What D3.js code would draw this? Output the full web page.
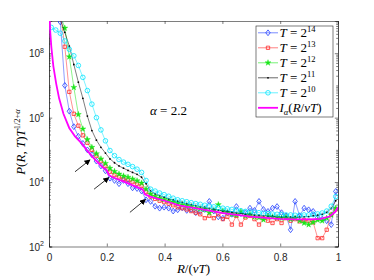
<!DOCTYPE html>
<html>
<head>
<meta charset="utf-8">
<script src="https://cdn.jsdelivr.net/npm/d3@7"></script>
<style>
body { margin: 0; background: #fff; }
svg { display: block; }
.tick-label { font-family: "Liberation Sans", Arial, sans-serif; font-size: 10px; fill: #262626; }
.tex { font-family: "Liberation Serif", "DejaVu Serif", serif; fill: #000; }
.axis path, .axis line { stroke: #262626; stroke-width: 0.6; }
</style>
</head>
<body>
<svg id="chart" width="374" height="280"></svg>
<script>
// bin centres R/(vT)
var rBins = [0.0078, 0.0234, 0.0391, 0.0547, 0.0703, 0.0859, 0.1016, 0.1172, 0.1328, 0.1484,
    0.1641, 0.1797, 0.1953, 0.2109, 0.2266, 0.2422, 0.2578, 0.2734, 0.2891, 0.3047,
    0.3203, 0.3359, 0.3516, 0.3672, 0.3828, 0.3984, 0.4141, 0.4297, 0.4453, 0.4609,
    0.4766, 0.4922, 0.5078, 0.5234, 0.5391, 0.5547, 0.5703, 0.5859, 0.6016, 0.6172,
    0.6328, 0.6484, 0.6641, 0.6797, 0.6953, 0.7109, 0.7266, 0.7422, 0.7578, 0.7734,
    0.7891, 0.8047, 0.8203, 0.8359, 0.8516, 0.8672, 0.8828, 0.8984, 0.9141, 0.9297,
    0.9453, 0.9609, 0.9766, 0.9922];

// log10 of P(R,T) T^(1/2+alpha)
var logT14 = [10.5, 9.8, 8.97, 7.0, 6.2, 5.72, 5.42, 5.2, 5.0, 4.85,
    4.65, 4.5, 4.35, 4.12, 4.05, 3.95, 4.05, 3.95, 3.82, 3.8,
    3.72, 3.45, 3.4, 3.25, 3.19, 3.22, 3.19, 3.1, 3.14, 3.2,
    3.12, 3.15, 3.05, 3.09, 3.15, 3.4, 3.1, 2.92, 2.88, 3.05,
    3.0, 3.24, 3.02, 3.05, 3.19, 3.12, 3.4, 3.15, 3.09, 3.19,
    3.24, 3.05, 2.95, 2.52, 3.4, 2.95, 3.19, 3.14, 3.09, 2.9,
    2.85, 2.8, 2.68, 3.71];
var logT13 = [10.5, 9.9, 9.3, 8.2, 6.8, 6.12, 5.75, 5.45, 5.22, 5.0,
    4.82, 4.65, 4.5, 4.32, 4.22, 4.15, 4.1, 4.05, 4.0, 3.95,
    3.88, 3.7, 3.55, 3.48, 3.42, 3.38, 3.33, 3.28, 3.22, 3.19,
    3.15, 3.1, 3.05, 3.0, 2.88, 2.95, 2.88, 3.0, 2.85, 2.92,
    2.68, 2.95, 2.68, 2.9, 2.95, 2.85, 2.68, 2.88, 2.8, 2.73,
    2.85, 2.73, 2.88, 2.8, 2.85, 2.78, 2.82, 2.8, 2.75, 2.26,
    2.26, 2.52, 2.99, 3.15];
var logT12 = [10.2, 9.7, 9.2, 8.78, 7.89, 6.94, 6.1, 5.65, 5.32, 5.08,
    4.88, 4.72, 4.58, 4.43, 4.33, 4.25, 4.19, 4.15, 4.1, 4.04,
    3.97, 3.78, 3.63, 3.56, 3.5, 3.46, 3.42, 3.38, 3.34, 3.3,
    3.27, 3.24, 3.2, 3.17, 3.15, 3.05, 3.12, 3.3, 3.1, 3.05,
    3.0, 2.98, 3.09, 2.95, 3.0, 2.92, 2.9, 2.83, 2.95, 2.92,
    2.9, 2.88, 2.92, 2.85, 2.88, 2.8, 2.73, 2.68, 2.75, 2.82,
    2.8, 2.88, 2.98, 3.19];
var logT11 = [10.5, 9.8, 9.05, 8.65, 8.22, 7.65, 7.1, 6.6, 6.05, 5.6,
    5.3, 5.08, 4.9, 4.72, 4.6, 4.5, 4.43, 4.36, 4.3, 4.24,
    4.15, 3.95, 3.72, 3.64, 3.58, 3.53, 3.48, 3.44, 3.4, 3.37,
    3.33, 3.3, 3.27, 3.24, 3.21, 3.18, 3.15, 3.13, 3.11, 3.09,
    3.07, 3.05, 3.03, 3.01, 3.0, 2.98, 2.97, 2.96, 2.95, 2.94,
    2.93, 2.92, 2.92, 2.91, 2.91, 2.91, 2.92, 2.93, 2.95, 2.97,
    3.0, 3.06, 3.18, 3.42];
var logT10 = [8.8, 8.72, 8.62, 8.38, 8.12, 7.92, 7.62, 7.25, 6.84, 6.42,
    6.0, 5.62, 5.28, 4.98, 4.82, 4.7, 4.62, 4.55, 4.48, 4.4,
    4.3, 4.05, 3.78, 3.72, 3.66, 3.61, 3.56, 3.5, 3.45, 3.42,
    3.39, 3.36, 3.33, 3.31, 3.28, 3.26, 3.23, 3.21, 3.19, 3.17,
    3.15, 3.13, 3.11, 3.09, 3.07, 3.06, 3.05, 3.03, 3.02, 3.01,
    3.0, 2.99, 2.98, 2.98, 2.97, 2.97, 2.98, 2.98, 2.99, 3.01,
    3.04, 3.1, 3.25, 3.55];

// I_alpha(R/vT) curve
var theoryR = [0.001, 0.004, 0.008, 0.015, 0.025, 0.035, 0.05, 0.07, 0.09, 0.113,
    0.13, 0.153, 0.175, 0.19, 0.2, 0.207, 0.22, 0.257, 0.3, 0.325,
    0.332, 0.35, 0.4, 0.45, 0.5, 0.55, 0.6, 0.65, 0.7, 0.75,
    0.8, 0.85, 0.9, 0.94, 0.97, 0.99, 1.0];
var theoryLog = [9.3, 8.7, 8.2, 7.6, 7.05, 6.6, 6.12, 5.68, 5.42, 5.2,
    5.0, 4.76, 4.55, 4.43, 4.36, 4.22, 4.15, 4.02, 3.86, 3.76,
    3.62, 3.55, 3.42, 3.28, 3.2, 3.12, 3.04, 2.98, 2.93, 2.89,
    2.86, 2.84, 2.84, 2.86, 2.93, 3.07, 3.22];

var seriesNames = ['14', '13', '12', '11', '10'];
var seriesValues = [logT14, logT13, logT12, logT11, logT10];
var seriesColors = ['#1f3dff', '#ff2a2a', '#19e619', '#000000', '#00e5ff'];
var seriesMarkers = ['diamond', 'square', 'star', 'dot', 'circle'];
var theoryColor = '#ff00ff';

var xTicks = [0, 0.2, 0.4, 0.6, 0.8, 1];
var yTickExps = [2, 4, 6, 8];

// arrows pointing at the steps, [r, log10 P]
var arrowTails = [[0.09, 4.32], [0.156, 3.78], [0.28, 3.06]];
var arrowTips = [[0.142, 4.69], [0.207, 4.14], [0.334, 3.46]];

var plotLeft = 49, plotRight = 338, plotTop = 21, plotBottom = 246.5;

var x = d3.scaleLinear().domain([0, 1]).range([plotLeft, plotRight]);
var y = d3.scaleLog().domain([1e2, 1e9]).range([plotBottom, plotTop]);

var svg = d3.select('#chart');
var defs = svg.append('defs');

defs.append('clipPath').attr('id', 'plotClip')
    .append('rect')
    .attr('x', plotLeft).attr('y', plotTop)
    .attr('width', plotRight - plotLeft).attr('height', plotBottom - plotTop);

defs.append('marker')
    .attr('id', 'arrowHead')
    .attr('viewBox', '0 0 10 10')
    .attr('refX', 9).attr('refY', 5)
    .attr('markerWidth', 6).attr('markerHeight', 6)
    .attr('markerUnits', 'userSpaceOnUse')
    .attr('orient', 'auto')
    .append('path')
    .attr('d', 'M0,0L10,5L0,10z')
    .attr('fill', '#000');

// minor y ticks
var minorY = [];
for (var e = 2; e < 9; e++) {
    for (var m = 2; m <= 9; m++) minorY.push(m * Math.pow(10, e));
}
minorY.push(1e3, 1e5, 1e7);

var xAxis = svg.append('g').attr('class', 'axis')
    .attr('transform', 'translate(0,' + plotBottom + ')')
    .call(d3.axisBottom(x).tickValues(xTicks).tickSize(-3).tickPadding(7)
        .tickFormat(function(d) { return d3.format('')(d); }));
xAxis.selectAll('text').attr('class', 'tick-label').attr('fill', null);

svg.append('g').attr('class', 'axis')
    .attr('transform', 'translate(0,' + plotTop + ')')
    .call(d3.axisTop(x).tickValues(xTicks).tickSize(-3).tickFormat(''));

function yAxisGroup(side) {
    var g = svg.append('g').attr('class', 'axis');
    var xPos = side === 'left' ? plotLeft : plotRight;
    g.attr('transform', 'translate(' + xPos + ',0)');
    var ax = side === 'left' ? d3.axisLeft(y) : d3.axisRight(y);
    g.append('g').call(ax.tickValues(minorY).tickSize(-1.8).tickFormat(''));
    var ax2 = side === 'left' ? d3.axisLeft(y) : d3.axisRight(y);
    g.append('g').call(ax2.tickValues(yTickExps.map(function(p) { return Math.pow(10, p); }))
        .tickSize(-3.2).tickFormat(''));
}
yAxisGroup('left');
yAxisGroup('right');

// y tick labels 10^n
var yLab = svg.selectAll('text.ylab')
    .data(yTickExps)
    .join('text')
    .attr('class', 'tick-label ylab')
    .attr('text-anchor', 'end')
    .attr('x', plotLeft - 5)
    .attr('y', function(d) { return y(Math.pow(10, d)) + 4; });
yLab.append('tspan').text('10');
yLab.append('tspan').attr('font-size', '7px').attr('dy', -4.5)
    .text(function(d) { return d; });

// data
var dataG = svg.append('g').attr('clip-path', 'url(#plotClip)');

var line = d3.line()
    .x(function(d) { return x(d[0]); })
    .y(function(d) { return y(Math.pow(10, d[1])); });

function drawMarker(sel, type, color) {
    if (type === 'circle') {
        sel.append('circle').attr('r', 2.3).attr('fill', 'none')
            .attr('stroke', color).attr('stroke-width', 0.8);
    } else if (type === 'dot') {
        sel.append('circle').attr('r', 0.9).attr('fill', color);
    } else if (type === 'star') {
        sel.append('path').attr('d', d3.symbol(d3.symbolStar, 11)())
            .attr('fill', color).attr('stroke', color).attr('stroke-width', 0.4);
    } else if (type === 'square') {
        sel.append('path').attr('d', d3.symbol(d3.symbolSquare, 11)())
            .attr('fill', 'none').attr('stroke', color).attr('stroke-width', 0.8);
    } else {
        sel.append('path').attr('d', 'M0,-2.9L2.2,0L0,2.9L-2.2,0Z')
            .attr('fill', 'none').attr('stroke', color).attr('stroke-width', 0.8);
    }
}

seriesValues.forEach(function(vals, si) {
    var pts = vals.map(function(v, i) { return [rBins[i], v]; });
    var g = dataG.append('g');
    g.append('path')
        .attr('d', line(pts))
        .attr('fill', 'none')
        .attr('stroke', seriesColors[si])
        .attr('stroke-width', 0.6)
        .attr('stroke-opacity', 0.85);
    var mk = g.selectAll('g.mk')
        .data(pts)
        .join('g')
        .attr('class', 'mk')
        .attr('transform', function(d) {
            return 'translate(' + x(d[0]) + ',' + y(Math.pow(10, d[1])) + ')';
        });
    drawMarker(mk, seriesMarkers[si], seriesColors[si]);
});

dataG.append('path')
    .attr('d', line(theoryR.map(function(r, i) { return [r, theoryLog[i]]; })))
    .attr('fill', 'none')
    .attr('stroke', theoryColor)
    .attr('stroke-width', 1.8);

// arrows
svg.selectAll('line.arrow')
    .data(arrowTips)
    .join('line')
    .attr('class', 'arrow')
    .attr('x1', function(d, i) { return x(arrowTails[i][0]); })
    .attr('y1', function(d, i) { return y(Math.pow(10, arrowTails[i][1])); })
    .attr('x2', function(d) { return x(d[0]); })
    .attr('y2', function(d) { return y(Math.pow(10, d[1])); })
    .attr('stroke', '#000')
    .attr('stroke-width', 0.8)
    .attr('marker-end', 'url(#arrowHead)');

// alpha annotation
var alphaText = svg.append('text').attr('class', 'tex')
    .attr('x', 150).attr('y', 115).attr('font-size', '13px');
alphaText.append('tspan').attr('font-style', 'italic').text('α');
alphaText.append('tspan').text(' = 2.2');

// legend
var legX = 256, legY = 26, legW = 77, legH = 91;
var legend = svg.append('g');
legend.append('rect')
    .attr('x', legX).attr('y', legY).attr('width', legW).attr('height', legH)
    .attr('fill', '#fff').attr('stroke', '#262626').attr('stroke-width', 0.6);

var legRows = seriesNames.concat(['theory']);
legRows.forEach(function(name, i) {
    var cy = legY + 6.8 + i * 15;
    var color = i < 5 ? seriesColors[i] : theoryColor;
    legend.append('line')
        .attr('x1', legX + 2).attr('x2', legX + 22)
        .attr('y1', cy).attr('y2', cy)
        .attr('stroke', color)
        .attr('stroke-width', i < 5 ? 0.6 : 1.8);
    if (i < 5) {
        var mg = legend.append('g').attr('transform', 'translate(' + (legX + 12) + ',' + cy + ')');
        drawMarker(mg, seriesMarkers[i], color);
    }
    var t = legend.append('text').attr('class', 'tex')
        .attr('x', legX + 23.5).attr('y', cy + 4).attr('font-size', '13px');
    if (i < 5) {
        t.append('tspan').attr('font-style', 'italic').text('T');
        t.append('tspan').text(' = 2');
        t.append('tspan').attr('font-size', '8.5px').attr('dy', -5).text(name);
    } else {
        t.append('tspan').attr('font-style', 'italic').text('I');
        t.append('tspan').attr('font-style', 'italic').attr('font-size', '8.5px').attr('dy', 3).text('α');
        t.append('tspan').attr('dy', -3).text('(');
        t.append('tspan').attr('font-style', 'italic').text('R');
        t.append('tspan').text('/');
        t.append('tspan').attr('font-style', 'italic').text('vT');
        t.append('tspan').text(')');
    }
});

// axis titles
var xt = svg.append('text').attr('class', 'tex')
    .attr('x', (plotLeft + plotRight) / 2).attr('y', 273)
    .attr('text-anchor', 'middle').attr('font-size', '13px');
xt.append('tspan').attr('font-style', 'italic').text('R');
xt.append('tspan').text('/(');
xt.append('tspan').attr('font-style', 'italic').text('vT');
xt.append('tspan').text(')');

var yt = svg.append('text').attr('class', 'tex')
    .attr('transform', 'translate(25,142) rotate(-90)')
    .attr('text-anchor', 'middle').attr('font-size', '13px');
yt.append('tspan').attr('font-style', 'italic').text('P');
yt.append('tspan').text('(');
yt.append('tspan').attr('font-style', 'italic').text('R');
yt.append('tspan').text(', ');
yt.append('tspan').attr('font-style', 'italic').text('T');
yt.append('tspan').text(')');
yt.append('tspan').attr('font-style', 'italic').text('T');
yt.append('tspan').attr('font-size', '8.5px').attr('dy', -5).text('1/2+');
yt.append('tspan').attr('font-size', '8.5px').attr('font-style', 'italic').text('α');
</script>
</body>
</html>
